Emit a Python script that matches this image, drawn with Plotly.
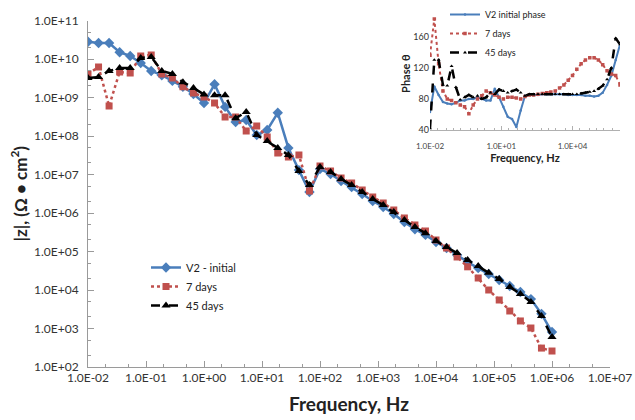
import plotly.graph_objects as go

# Measurement frequencies (Hz), shared by all impedance sweeps
freq_hz = [
    0.01, 0.0152, 0.0231, 0.0351, 0.0534, 0.0811, 0.123, 0.187, 0.285, 0.433,
    0.658, 1.0, 1.52, 2.31, 3.51, 5.34, 8.11, 12.3, 18.7, 28.5,
    43.3, 65.8, 100, 152, 231, 351, 534, 811, 1230, 1870,
    2850, 4330, 6580, 10000, 15200, 23100, 35100, 53400, 81100, 123000,
    187000, 285000, 433000, 658000, 1000000,
]

# |Z| (Ohm cm^2)
z_initial = [
    2.8e10, 2.6e10, 2.6e10, 1.5e10, 1.2e10, 7.9e9, 4.9e9, 3.8e9, 2.7e9, 1.9e9,
    1.23e9, 7.2e8, 2.2e9, 5.7e8, 2.3e8, 2.6e8, 1.06e8, 1.43e8, 4.0e8, 4.9e7,
    1.3e7, 3.5e6, 1.39e7, 1.03e7, 6.8e6, 4.7e6, 3.1e6, 2.05e6, 1.43e6, 9.4e5,
    5.8e5, 3.8e5, 2.7e5, 1.77e5, 1.23e5, 8.1e4, 5.3e4, 3.7e4, 2.6e4, 1.82e4,
    1.27e4, 8.9e3, 5.8e3, 2.4e3, 8.1e2,
]
z_7days = [
    4.1e9, 6.2e9, 6.0e8, 4.6e9, 4.3e9, 1.2e10, 1.27e10, 4.1e9, 3.2e9, 1.9e9,
    1.31e9, 1.03e9, 7.2e8, 3.1e8, 3.1e8, 1.35e8, 1.82e8, 9.4e7, 3.6e7, 2.85e7,
    3.2e7, 3.7e6, 1.66e7, 1.23e7, 8.1e6, 6.0e6, 3.95e6, 2.6e6, 1.82e6, 1.2e6,
    7.4e5, 4.9e5, 3.4e5, 2.0e5, 1.23e5, 7.2e4, 4.0e4, 2.05e4, 1.0e4, 5.5e3,
    2.85e3, 1.57e3, 1.03e3, 3.1e2, 2.6e2,
]
z_45days = [
    3.2e9, 3.4e9, 4.9e9, 5.8e9, 5.8e9, 1.06e10, 1.13e10, 4.9e9, 4.1e9, 2.5e9,
    1.77e9, 1.2e9, 1.15e9, 1.15e9, 2.9e8, 4.2e8, 1.06e8, 7.4e7, 4.9e7, 3.2e7,
    1.23e7, 5.3e6, 1.57e7, 1.16e7, 7.6e6, 5.3e6, 3.5e6, 2.3e6, 1.61e6, 1.06e6,
    6.6e5, 4.3e5, 3.0e5, 1.87e5, 1.31e5, 9.1e4, 6.0e4, 4.2e4, 2.8e4, 1.93e4,
    1.2e4, 7.9e3, 4.9e3, 2.1e3, 6.0e2,
]

# Phase angle (degrees)
phase_initial = [
    63, 96, 85, 76, 74, 73, 75, 78, 78, 80,
    80, 82, 80, 78, 78, 93, 82, 70, 57, 54,
    44, 65, 84, 85, 85, 85, 86, 86, 86, 86,
    86, 86, 85, 85, 85, 85, 84, 84, 83, 84,
    88, 98, 110, 130, 150,
]
phase_7days = [
    136, 183, 125, 90, 80, 78, 75, 72, 70, 61,
    72, 80, 84, 90, 88, 85, 82, 80, 82, 82,
    81, 80, 83, 85, 85, 86, 87, 88, 89, 90,
    94, 98, 104, 110, 118, 125, 130, 133, 133, 130,
    124, 116, 112, 110, 98,
]
phase_45days = [
    42, 130, 130, 98, 97, 122, 95, 79, 82, 85,
    82, 84, 80, 82, 88, 86, 92, 90, 88, 90,
    92, 88, 84, 86, 86, 86, 86, 86, 86, 86,
    86, 86, 86, 86, 86, 87, 88, 89, 90, 93,
    97, 105, 120, 158, 150,
]

series_names = ["V2 - initial", "7 days", "45 days"]
phase_names = ["V2 initial phase", "7 days", "45 days"]

x_tick_labels = ["1.0E-02", "1.0E-01", "1.0E+00", "1.0E+01", "1.0E+02",
                 "1.0E+03", "1.0E+04", "1.0E+05", "1.0E+06", "1.0E+07"]
y_tick_labels = ["1.0E+02", "1.0E+03", "1.0E+04", "1.0E+05", "1.0E+06",
                 "1.0E+07", "1.0E+08", "1.0E+09", "1.0E+10", "1.0E+11"]
inset_x_labels = ["1.0E-02", "1.0E+01", "1.0E+04"]
inset_y_labels = [40, 80, 120, 160]

BLUE = "#4A7EBB"
RED = "#C0504D"
BLACK = "#000000"
AXIS = "#9A9A9A"
FONT = "Lato"

fig = go.Figure()

# Main Bode magnitude plot
fig.add_trace(go.Scatter(
    x=freq_hz, y=z_initial, name=series_names[0], mode="lines+markers",
    line=dict(color=BLUE, width=2.5),
    marker=dict(symbol="diamond", size=8, color=BLUE),
    legend="legend",
))
fig.add_trace(go.Scatter(
    x=freq_hz, y=z_7days, name=series_names[1], mode="lines+markers",
    line=dict(color=RED, width=2.5, dash="dot"),
    marker=dict(symbol="square", size=7, color=RED),
    legend="legend",
))
fig.add_trace(go.Scatter(
    x=freq_hz, y=z_45days, name=series_names[2], mode="lines+markers",
    line=dict(color=BLACK, width=2.5, dash="dash"),
    marker=dict(symbol="triangle-up", size=8, color=BLACK),
    legend="legend",
))

# Inset phase plot
fig.add_trace(go.Scatter(
    x=freq_hz, y=phase_initial, name=phase_names[0], mode="lines+markers",
    line=dict(color=BLUE, width=2),
    marker=dict(symbol="circle", size=2.5, color=BLUE),
    xaxis="x2", yaxis="y2", legend="legend2",
))
fig.add_trace(go.Scatter(
    x=freq_hz, y=phase_7days, name=phase_names[1], mode="lines+markers",
    line=dict(color=RED, width=2, dash="dot"),
    marker=dict(symbol="square", size=3.5, color=RED),
    xaxis="x2", yaxis="y2", legend="legend2",
))
fig.add_trace(go.Scatter(
    x=freq_hz, y=phase_45days, name=phase_names[2], mode="lines+markers",
    line=dict(color=BLACK, width=2.5, dash="dash"),
    marker=dict(symbol="triangle-up", size=3.5, color=BLACK),
    xaxis="x2", yaxis="y2", legend="legend2",
))

W, H = 635, 420
ML, MR, MT, MB = 88, 0, 10, 53
PW, PH = W - ML - MR, H - MT - MB


def px_x(p):
    return (p - ML) / PW


def px_y(p):
    return (H - MB - p) / PH


tick_font = dict(family=FONT, size=12, color="#333333")
small_font = dict(family=FONT, size=8, color="#444444")

fig.update_layout(
    width=W, height=H,
    margin=dict(l=ML, r=MR, t=MT, b=MB, autoexpand=False),
    paper_bgcolor="white", plot_bgcolor="white",
    font=dict(family=FONT, color="#222222"),
    xaxis=dict(
        type="log", domain=[0, px_x(610)], range=[-2, 7], automargin=False,
        tickmode="array", tickvals=[float(t) for t in x_tick_labels],
        ticktext=x_tick_labels, tickfont=tick_font,
        showgrid=False, zeroline=False,
        showline=True, linecolor=AXIS, linewidth=1,
        ticks="inside", ticklen=6, tickcolor=AXIS,
        minor=dict(ticks="inside", ticklen=3, tickcolor=AXIS, showgrid=False),
        title=dict(text="<b>Frequency, Hz</b>", font=dict(family=FONT, size=19, color="#222222"),
                   standoff=13),
        anchor="y",
    ),
    yaxis=dict(
        type="log", domain=[0, px_y(20.5)], range=[2, 11], automargin=False,
        tickmode="array", tickvals=[float(t) for t in y_tick_labels],
        ticktext=y_tick_labels, tickfont=tick_font,
        showgrid=False, zeroline=False,
        showline=True, linecolor=AXIS, linewidth=1,
        ticks="inside", ticklen=6, tickcolor=AXIS,
        minor=dict(ticks="inside", ticklen=3, tickcolor=AXIS, showgrid=False),
        ticklabelstandoff=6,
        title=dict(text="<b>|z|, (Ω • cm<sup>2</sup>)</b>",
                   font=dict(family=FONT, size=17, color="#222222"), standoff=2),
        anchor="x",
    ),
    xaxis2=dict(
        type="log", domain=[px_x(430), px_x(620)], range=[-2, 6], automargin=False,
        tickmode="array", tickvals=[float(t) for t in inset_x_labels],
        ticktext=inset_x_labels, tickfont=small_font,
        showgrid=False, zeroline=False,
        showline=True, linecolor="#B0B0B0", linewidth=1,
        ticks="inside", ticklen=4, tickcolor="#B0B0B0",
        minor=dict(ticks="inside", ticklen=2, tickcolor="#B0B0B0", showgrid=False),
        ticklabelstandoff=8,
        title=dict(text="<b>Frequency, Hz</b>", font=dict(family=FONT, size=11, color="#222222"),
                   standoff=0),
        anchor="y2",
    ),
    yaxis2=dict(
        domain=[px_y(130), px_y(130 - 145 * 0.778)], range=[40, 185], automargin=False,
        tickmode="array", tickvals=inset_y_labels,
        ticktext=[str(v) for v in inset_y_labels],
        tickfont=dict(family=FONT, size=9, color="#333333"),
        showgrid=False, zeroline=False, showline=False,
        ticks="", ticklabelstandoff=0,
        title=dict(text="<b>Phase θ</b>", font=dict(family=FONT, size=11, color="#222222"),
                   standoff=0),
        anchor="x2",
    ),
    legend=dict(
        x=px_x(146), y=px_y(253), xanchor="left", yanchor="top",
        bgcolor="rgba(0,0,0,0)", font=dict(family=FONT, size=11, color="#222222"),
        tracegroupgap=0,
    ),
    legend2=dict(
        x=445 / W, y=1.0, xref="container", yref="container",
        xanchor="left", yanchor="top",
        bgcolor="rgba(0,0,0,0)", font=dict(family=FONT, size=9, color="#222222"),
        tracegroupgap=0,
    ),
)

fig.write_html("out.html")
